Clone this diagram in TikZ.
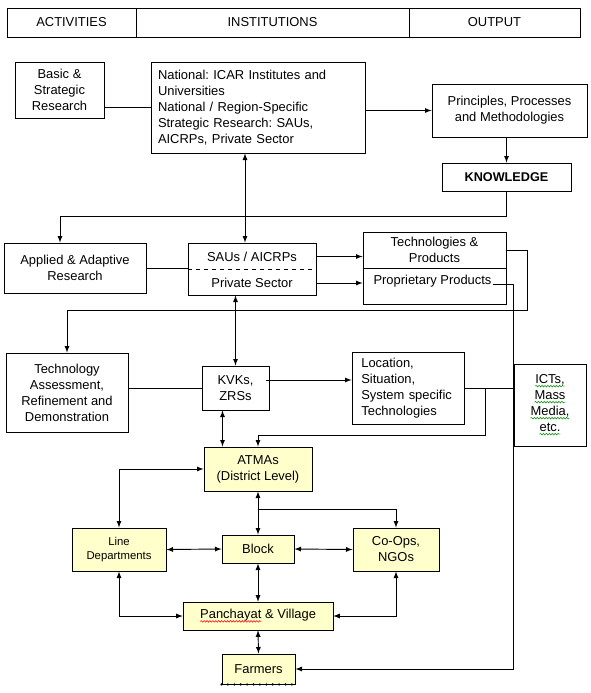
\documentclass[tikz,border=0pt]{standalone}
\usepackage{fontspec}
\setmainfont{Liberation Sans}
\frenchspacing
\usetikzlibrary{arrows}
\usetikzlibrary{calc}
\usetikzlibrary{positioning}
\usetikzlibrary{decorations.pathmorphing}
\definecolor{atmafill}{RGB}{255,255,204}
\newcommand\spellwave[2]{\tikz[baseline=(sw.base)]{\node[draw=none, fill=none, inner sep=0pt, outer sep=0pt,
    minimum width=0pt, minimum height=0pt] (sw) {#2};
    \draw[#1, line width=0.4pt, decorate, decoration={snake, amplitude=0.6pt, segment length=2.2pt}]
    ([yshift=-1.8pt]sw.base west) -- ([yshift=-1.8pt]sw.base east);}}
\tikzset{
    org_box/.style = {draw, rectangle, align=center, inner sep=1pt,
        font=\fontsize{9.7}{12}\selectfont},% plain box
    org_yel/.style = {org_box, fill=atmafill},% extension level box
    org_txt/.style = {rectangle, align=center, inner sep=1pt,
        font=\fontsize{9.7}{12}\selectfont},% text only
}

\begin{document}
\begin{tikzpicture}[x=0.75pt, y=-0.75pt, >=latex, line width=0.7pt]
\useasboundingbox (0,0) rectangle (591,693);

% header row
\node [org_box, minimum width=96.75pt, minimum height=21.75pt] (actv) at (71.5,22.5) {ACTIVITIES};
\node [org_box, minimum width=204.75pt, minimum height=21.75pt] (inst) at (272.5,22.5) {INSTITUTIONS};
\node [org_box, minimum width=128.25pt, minimum height=21.75pt] (outp) at (494.5,22.5) {OUTPUT};

% research level
\node [org_box, minimum width=66.75pt, minimum height=42pt] (basic) at (59.5,90) {Basic \&\\Strategic\\Research};
\node [org_box, text width=150pt, inner xsep=5.25pt, minimum height=68.25pt, align=left] (natl) at (258,107.5)
    {National: ICAR Institutes and\\Universities\\National / Region-Specific\\Strategic Research: SAUs,\\AICRPs, Private Sector};
\node [org_box, minimum width=116.25pt, minimum height=39.75pt] (princ) at (509.5,110.5) {Principles, Processes\\and Methodologies};
\node [org_box, minimum width=96.75pt, minimum height=21pt, font=\fontsize{9.5}{12}\selectfont\bfseries] (know) at (506.5,177) {KNOWLEDGE};

% applied level
\node [org_box, minimum width=106.5pt, minimum height=37.5pt] (appl) at (75,268) {Applied \& Adaptive\\Research};
\node [org_box, minimum width=96pt, minimum height=39pt] (sapbox) at (252,269) {};
\node [org_txt, minimum width=96pt] (sau) at (252,256.5) {SAUs / AICRPs};
\node [org_txt, minimum width=96pt] (prv) at (252,283) {Private Sector};
\draw [dashed] (sapbox.west) -- (sapbox.east);
\node [org_box, minimum width=107.25pt, minimum height=54pt] (techbox) at (434.5,268) {};
\node [org_txt] (tek) at (434.5,250) {Technologies \&\\Products};
\node [org_txt] (prop) at (432.5,281) {Proprietary Products};
\draw (techbox.west) -- (techbox.east);

% assessment level
\node [org_box, minimum width=91.5pt, minimum height=59.25pt] (ta) at (67,392.5) {Technology\\Assessment,\\Refinement and\\Demonstration};
\node [org_box, minimum width=50.25pt, minimum height=33pt] (kvk) at (235.5,388) {KVKs,\\ZRSs};
\node [org_box, text width=70pt, inner xsep=7pt, minimum height=54pt, align=left] (loc) at (408,388)
    {Location,\\Situation,\\System specific\\Technologies};
\node [org_box, minimum width=54pt, minimum height=61.5pt] (ict) at (550,405)
    {\spellwave{green!55!black}{ICTs,}\\\spellwave{green!55!black}{Mass}\\\spellwave{green!55!black}{Media,}\\\spellwave{green!55!black}{etc.}};

% district and below
\node [org_yel, minimum width=81pt, minimum height=33pt] (atma) at (258,469) {ATMAs\\(District Level)};
\node [org_yel, minimum width=70.5pt, minimum height=32.25pt, font=\fontsize{8.5}{11}\selectfont] (ld) at (119,549.5) {Line\\Departments};
\node [org_yel, minimum width=54pt, minimum height=21pt] (block) at (258,549) {Block};
\node [org_yel, minimum width=64.5pt, minimum height=32.25pt] (coop) at (396,549.5) {Co-Ops,\\NGOs};
\node [org_yel, minimum width=112.5pt, minimum height=21pt] (pan) at (258,616) {\spellwave{red}{Panchayat} \& Village};
\node [org_yel, minimum width=54.75pt, minimum height=22.5pt] (farm) at (258.5,669) {Farmers};
\draw [line width=1.9pt, line cap=round, dash pattern=on 0pt off 4.8pt] (farm.south west) -- (farm.south east);

% connectors, research level
\draw (natl.west) -- (natl.west -| basic.east);
\draw [->] (natl.east |- princ.west) -- (princ.west);
\draw [->] (princ.south -| know.north) -- (know.north);
\draw [->] (know.south) -- ++(0,25) -| ($(appl.north)+(-15,0)$);
\coordinate (na_s) at ($(sapbox.north)+(-7,0)$);
\draw [<->] (na_s |- natl.south) -- (na_s);

% connectors, applied level
\draw (appl.east) -- (appl.east -| sapbox.west);
\draw [->] (sau.east) -- (sau.east -| techbox.west);
\draw [->] (prv.east) -- (prv.east -| techbox.west);
\draw [->] (tek.east -| techbox.east) -- ++(21,0) |- ($(ta.north)+(0,-42)$) -- (ta.north);
\draw [->] (prop.base east) -| (ict.west |- farm.east) -- (farm.east);
\draw [<->] (sapbox.south -| kvk.north) -- (kvk.north);

% connectors, assessment level
\draw (kvk.west -| ta.east) -- (kvk.west);
\draw [->] ($(kvk.east)+(-3,-8)$) -- ($(loc.west)+(0,-8)$);
\draw (loc.east) -- (loc.east -| ict.west);
\draw [->] (loc.east) -- ++(21,0) |- ($(atma.north)+(0,-11)$) -- (atma.north);
\coordinate (kv_a) at ($(kvk.south)+(-13,0)$);
\draw [<->] (kv_a) -- (kv_a |- atma.north);

% connectors, district and below
\draw [<->] (atma.west) -| (ld.north);
\draw [<->] (atma.south) -- (block.north);
\draw [->] ($(atma.south)!0.41!(block.north)$) -| (coop.north);
\draw [<->] (ld.east) -- (block.west);
\draw [<->] (block.east) -- (coop.west);
\draw [<->] (block.south) -- (pan.north);
\draw [<->] (ld.south) |- (pan.west);
\draw [<->] (coop.south) |- (pan.east);
\draw [<->] (pan.south) -- (farm.north);
\end{tikzpicture}
\end{document}
